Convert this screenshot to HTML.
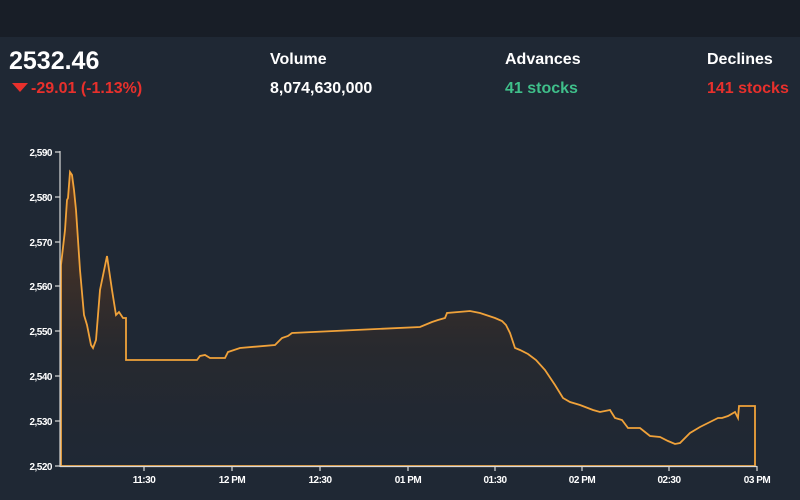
<!DOCTYPE html>
<html><head><style>
body{margin:0;width:800px;height:500px;background:#1f2834;font-family:"Liberation Sans",Arial,sans-serif;overflow:hidden;position:relative}
.top{position:absolute;left:0;top:0;width:800px;height:37px;background:#181e27}
.t{position:absolute;font-weight:bold;white-space:nowrap}
</style></head><body>
<div class="top"></div>
<div class="t" style="left:9px;top:47px;font-size:25px;color:#fff">2532.46</div>
<div class="t" style="left:12px;top:80px;font-size:16px;color:#e8302c"><span style="display:inline-block;width:0;height:0;border-left:8px solid transparent;border-right:8px solid transparent;border-top:9px solid #e8302c;margin-right:3px;vertical-align:1px"></span>-29.01 (-1.13%)</div>
<div class="t" style="left:270px;top:51px;font-size:16px;color:#fff">Volume</div>
<div class="t" style="left:270px;top:80px;font-size:16px;color:#fff">8,074,630,000</div>
<div class="t" style="left:505px;top:51px;font-size:16px;color:#fff">Advances</div>
<div class="t" style="left:505px;top:80px;font-size:16px;color:#3fbf8a">41 stocks</div>
<div class="t" style="left:707px;top:51px;font-size:16px;color:#fff">Declines</div>
<div class="t" style="left:707px;top:80px;font-size:16px;color:#e8302c">141 stocks</div>
<svg width="800" height="500" style="position:absolute;left:0;top:0">
<defs><linearGradient id="g" x1="0" y1="0" x2="0" y2="1"><stop offset="0" stop-color="#6a3c1c" stop-opacity="0.9"/><stop offset="0.6" stop-color="#2e2a2a" stop-opacity="0.6"/><stop offset="1" stop-color="#1f2834" stop-opacity="0.3"/></linearGradient></defs>
<path d="M61,466 L61,265 L65,230 L67,200 L68,198 L70,172 L72,175 L74,190 L76,210 L80,270 L84,315 L87,325 L91,345 L93,348 L96,340 L100,290 L107,256 L112,290 L116,315 L119,312 L123,318 L126,318 L126,360 L197,360 L200,356 L205,355 L210,358 L225,358 L228,352 L240,348 L275,345 L282,338 L288,336 L292,333 L420,327 L432,322 L438,320 L445,318 L447,313 L470,311 L480,313 L495,318 L502,321 L506,325 L510,333 L515,348 L520,350 L528,354 L536,360 L545,370 L555,385 L563,398 L570,402 L580,405 L593,410 L600,412 L610,410 L615,418 L622,420 L628,428 L640,428 L645,432 L650,436 L660,437 L668,441 L675,444 L680,443 L690,433 L700,427 L710,422 L718,418 L722,418 L728,416 L735,412 L738,418 L739,406 L755,406 L755,466 Z" fill="url(#g)" stroke="#f0a23a" stroke-width="1.8"/>
<g stroke="#d8d8d8" stroke-width="1.2" fill="none">
<line x1="60" y1="151" x2="60" y2="467"/><line x1="60" y1="466.5" x2="757" y2="466.5"/>
<line x1="55" y1="152" x2="60" y2="152"/><line x1="55" y1="197" x2="60" y2="197"/><line x1="55" y1="242" x2="60" y2="242"/><line x1="55" y1="286" x2="60" y2="286"/><line x1="55" y1="331" x2="60" y2="331"/><line x1="55" y1="376" x2="60" y2="376"/><line x1="55" y1="421" x2="60" y2="421"/><line x1="55" y1="466" x2="60" y2="466"/>
<line x1="144" y1="466" x2="144" y2="471"/><line x1="232" y1="466" x2="232" y2="471"/><line x1="320" y1="466" x2="320" y2="471"/><line x1="408" y1="466" x2="408" y2="471"/><line x1="495" y1="466" x2="495" y2="471"/><line x1="582" y1="466" x2="582" y2="471"/><line x1="669" y1="466" x2="669" y2="471"/><line x1="757" y1="466" x2="757" y2="471"/>
</g>
<g fill="#fff" font-size="10" font-weight="bold" text-anchor="end" letter-spacing="-0.5">
<text x="52" y="156">2,590</text><text x="52" y="201">2,580</text><text x="52" y="246">2,570</text><text x="52" y="290">2,560</text><text x="52" y="335">2,550</text><text x="52" y="380">2,540</text><text x="52" y="425">2,530</text><text x="52" y="470">2,520</text>
</g>
<g fill="#fff" font-size="10" font-weight="bold" text-anchor="middle" letter-spacing="-0.5">
<text x="144" y="483">11:30</text><text x="232" y="483">12 PM</text><text x="320" y="483">12:30</text><text x="408" y="483">01 PM</text><text x="495" y="483">01:30</text><text x="582" y="483">02 PM</text><text x="669" y="483">02:30</text><text x="757" y="483">03 PM</text>
</g>
</svg>
</body></html>
